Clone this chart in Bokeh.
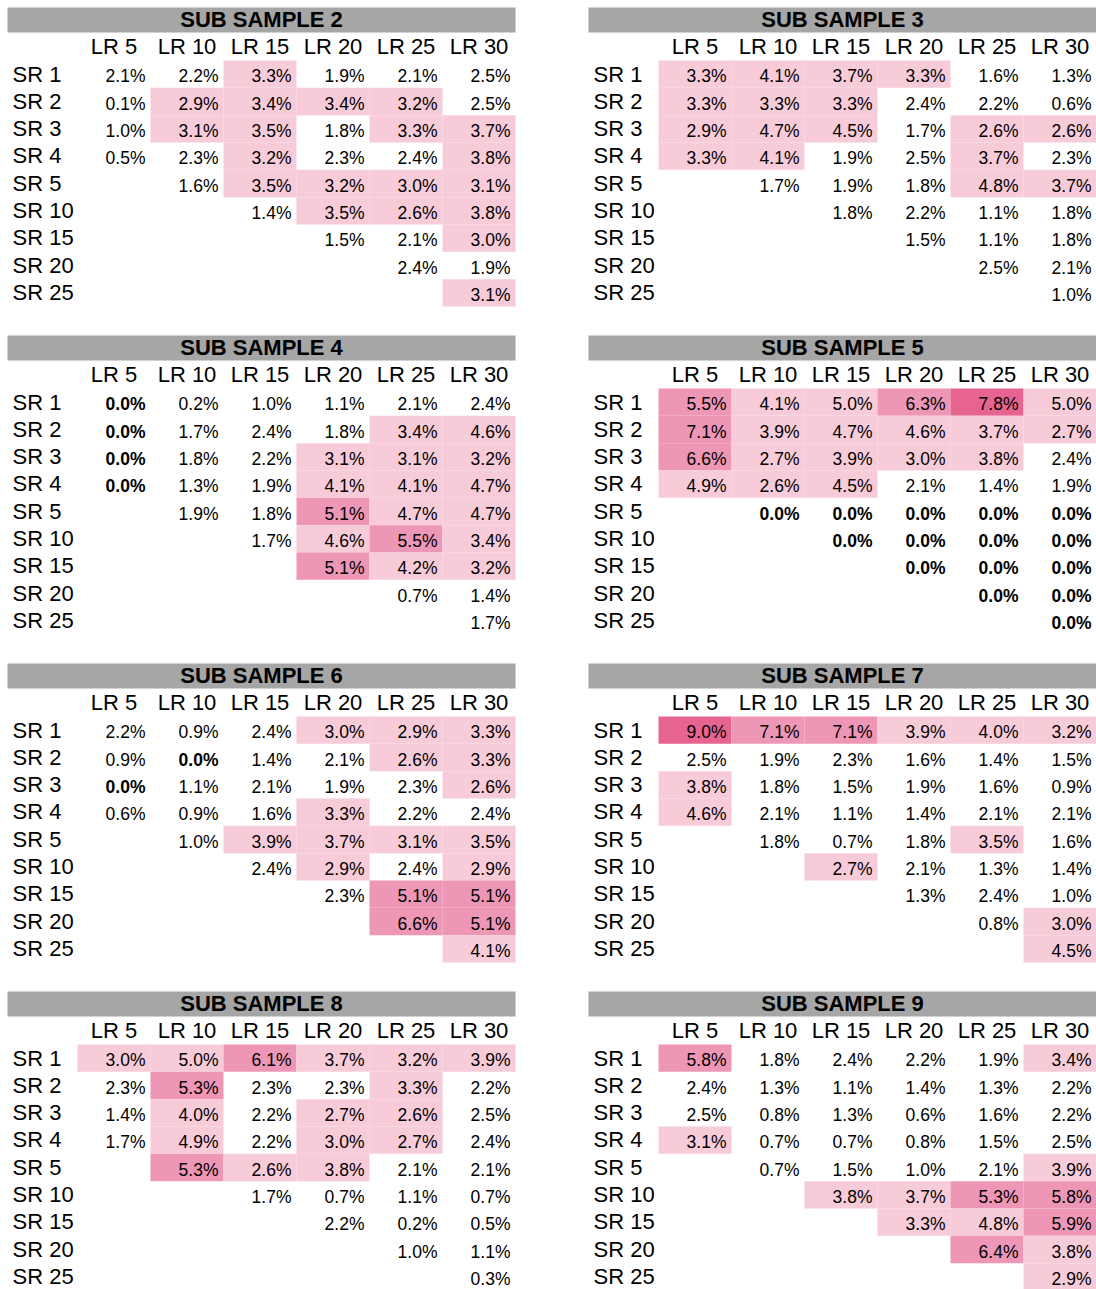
from bokeh.plotting import figure
from bokeh.models import Range1d, ColumnDataSource
from bokeh.embed import file_html
from bokeh.resources import INLINE
from bokeh.core.properties import value

# ---------------- data ----------------
SR_LABELS = ["SR 1", "SR 2", "SR 3", "SR 4", "SR 5", "SR 10", "SR 15", "SR 20", "SR 25"]
LR_LABELS = ["LR 5", "LR 10", "LR 15", "LR 20", "LR 25", "LR 30"]
TITLES = ["SUB SAMPLE 2", "SUB SAMPLE 3", "SUB SAMPLE 4", "SUB SAMPLE 5",
          "SUB SAMPLE 6", "SUB SAMPLE 7", "SUB SAMPLE 8", "SUB SAMPLE 9"]
N = None

ss2 = [[2.1, 2.2, 3.3, 1.9, 2.1, 2.5],
       [0.1, 2.9, 3.4, 3.4, 3.2, 2.5],
       [1.0, 3.1, 3.5, 1.8, 3.3, 3.7],
       [0.5, 2.3, 3.2, 2.3, 2.4, 3.8],
       [N, 1.6, 3.5, 3.2, 3.0, 3.1],
       [N, N, 1.4, 3.5, 2.6, 3.8],
       [N, N, N, 1.5, 2.1, 3.0],
       [N, N, N, N, 2.4, 1.9],
       [N, N, N, N, N, 3.1]]
ss3 = [[3.3, 4.1, 3.7, 3.3, 1.6, 1.3],
       [3.3, 3.3, 3.3, 2.4, 2.2, 0.6],
       [2.9, 4.7, 4.5, 1.7, 2.6, 2.6],
       [3.3, 4.1, 1.9, 2.5, 3.7, 2.3],
       [N, 1.7, 1.9, 1.8, 4.8, 3.7],
       [N, N, 1.8, 2.2, 1.1, 1.8],
       [N, N, N, 1.5, 1.1, 1.8],
       [N, N, N, N, 2.5, 2.1],
       [N, N, N, N, N, 1.0]]
ss4 = [[0.0, 0.2, 1.0, 1.1, 2.1, 2.4],
       [0.0, 1.7, 2.4, 1.8, 3.4, 4.6],
       [0.0, 1.8, 2.2, 3.1, 3.1, 3.2],
       [0.0, 1.3, 1.9, 4.1, 4.1, 4.7],
       [N, 1.9, 1.8, 5.1, 4.7, 4.7],
       [N, N, 1.7, 4.6, 5.5, 3.4],
       [N, N, N, 5.1, 4.2, 3.2],
       [N, N, N, N, 0.7, 1.4],
       [N, N, N, N, N, 1.7]]
ss5 = [[5.5, 4.1, 5.0, 6.3, 7.8, 5.0],
       [7.1, 3.9, 4.7, 4.6, 3.7, 2.7],
       [6.6, 2.7, 3.9, 3.0, 3.8, 2.4],
       [4.9, 2.6, 4.5, 2.1, 1.4, 1.9],
       [N, 0.0, 0.0, 0.0, 0.0, 0.0],
       [N, N, 0.0, 0.0, 0.0, 0.0],
       [N, N, N, 0.0, 0.0, 0.0],
       [N, N, N, N, 0.0, 0.0],
       [N, N, N, N, N, 0.0]]
ss6 = [[2.2, 0.9, 2.4, 3.0, 2.9, 3.3],
       [0.9, 0.0, 1.4, 2.1, 2.6, 3.3],
       [0.0, 1.1, 2.1, 1.9, 2.3, 2.6],
       [0.6, 0.9, 1.6, 3.3, 2.2, 2.4],
       [N, 1.0, 3.9, 3.7, 3.1, 3.5],
       [N, N, 2.4, 2.9, 2.4, 2.9],
       [N, N, N, 2.3, 5.1, 5.1],
       [N, N, N, N, 6.6, 5.1],
       [N, N, N, N, N, 4.1]]
ss7 = [[9.0, 7.1, 7.1, 3.9, 4.0, 3.2],
       [2.5, 1.9, 2.3, 1.6, 1.4, 1.5],
       [3.8, 1.8, 1.5, 1.9, 1.6, 0.9],
       [4.6, 2.1, 1.1, 1.4, 2.1, 2.1],
       [N, 1.8, 0.7, 1.8, 3.5, 1.6],
       [N, N, 2.7, 2.1, 1.3, 1.4],
       [N, N, N, 1.3, 2.4, 1.0],
       [N, N, N, N, 0.8, 3.0],
       [N, N, N, N, N, 4.5]]
ss8 = [[3.0, 5.0, 6.1, 3.7, 3.2, 3.9],
       [2.3, 5.3, 2.3, 2.3, 3.3, 2.2],
       [1.4, 4.0, 2.2, 2.7, 2.6, 2.5],
       [1.7, 4.9, 2.2, 3.0, 2.7, 2.4],
       [N, 5.3, 2.6, 3.8, 2.1, 2.1],
       [N, N, 1.7, 0.7, 1.1, 0.7],
       [N, N, N, 2.2, 0.2, 0.5],
       [N, N, N, N, 1.0, 1.1],
       [N, N, N, N, N, 0.3]]
ss9 = [[5.8, 1.8, 2.4, 2.2, 1.9, 3.4],
       [2.4, 1.3, 1.1, 1.4, 1.3, 2.2],
       [2.5, 0.8, 1.3, 0.6, 1.6, 2.2],
       [3.1, 0.7, 0.7, 0.8, 1.5, 2.5],
       [N, 0.7, 1.5, 1.0, 2.1, 3.9],
       [N, N, 3.8, 3.7, 5.3, 5.8],
       [N, N, N, 3.3, 4.8, 5.9],
       [N, N, N, N, 6.4, 3.8],
       [N, N, N, N, N, 2.9]]
TABLES = [ss2, ss3, ss4, ss5, ss6, ss7, ss8, ss9]

# ---------------- style / layout ----------------
FONT = value("Liberation Sans")
GRAY = "#A6A6A6"
LIGHT = "#F8CBD9"
MEDIUM = "#EE96B6"
DARK = "#E6648F"

TABLE_LEFT = [7, 588]
TABLE_RIGHT = [515, 1096]
BLOCK_TOP0 = 7
BLOCK_STEP = 328
TITLE_H = 25
HEADER_H = 28
ROW_H = 27.33
COL_W = 73


def shade(v):
    if v is None or v < 2.55:
        return None
    if v >= 7.5:
        return DARK
    if v >= 5.05:
        return MEDIUM
    return LIGHT


bars = dict(l=[], r=[], t=[], b=[])
titles = dict(x=[], y=[], s=[])
heads = dict(x=[], y=[], s=[])
labels = dict(x=[], y=[], s=[])
cells = dict(l=[], r=[], t=[], b=[], c=[])
vals_n = dict(x=[], y=[], s=[])
vals_b = dict(x=[], y=[], s=[])

for k, tab in enumerate(TABLES):
    side = k % 2
    blk = k // 2
    left, right = TABLE_LEFT[side], TABLE_RIGHT[side]
    top = BLOCK_TOP0 + blk * BLOCK_STEP
    bars["l"].append(left); bars["r"].append(right)
    bars["t"].append(top); bars["b"].append(top + TITLE_H)
    titles["x"].append((left + right) / 2); titles["y"].append(top + 12.3)
    titles["s"].append(TITLES[k])
    htop = top + TITLE_H
    col0 = right - len(LR_LABELS) * COL_W
    for j, lab in enumerate(LR_LABELS):
        heads["x"].append(col0 + (j + 0.5) * COL_W)
        heads["y"].append(htop + 13.8)
        heads["s"].append(lab)
    rtop0 = htop + HEADER_H
    for i, srl in enumerate(SR_LABELS):
        rt = rtop0 + i * ROW_H
        labels["x"].append(left + 5); labels["y"].append(rt + 13.5)
        labels["s"].append(srl)
        for j, v in enumerate(tab[i]):
            if v is None:
                continue
            cl = col0 + j * COL_W
            c = shade(v)
            if c is not None:
                cells["l"].append(cl); cells["r"].append(cl + COL_W)
                cells["t"].append(rt); cells["b"].append(rt + ROW_H)
                cells["c"].append(c)
            target = vals_b if v == 0 else vals_n
            target["x"].append(cl + COL_W - 5)
            target["y"].append(rt + 15.8)
            target["s"].append(f"{v:.1f}%")

# ---------------- figure ----------------
W, H = 1096, 1289
p = figure(width=W, height=H, x_range=Range1d(0, W), y_range=Range1d(H, 0),
           output_backend="svg", toolbar_location=None, min_border=0,
           x_axis_location=None, y_axis_location=None)
p.grid.visible = False
p.outline_line_color = None
p.background_fill_color = "white"
p.border_fill_color = "white"

p.quad(left="l", right="r", top="t", bottom="b", source=ColumnDataSource(bars),
       fill_color=GRAY, line_color=None)
p.quad(left="l", right="r", top="t", bottom="b", fill_color="c", source=ColumnDataSource(cells),
       line_color=None)

p.text(x="x", y="y", text="s", source=ColumnDataSource(titles), text_font=FONT,
       text_font_size="22px", text_font_style="bold", text_align="center",
       text_baseline="middle", text_color="black")
p.text(x="x", y="y", text="s", source=ColumnDataSource(heads), text_font=FONT,
       text_font_size="22px", text_align="center", text_baseline="middle",
       text_color="black")
p.text(x="x", y="y", text="s", source=ColumnDataSource(labels), text_font=FONT,
       text_font_size="22px", text_align="left", text_baseline="middle",
       text_color="black")
p.text(x="x", y="y", text="s", source=ColumnDataSource(vals_n), text_font=FONT,
       text_font_size="17.5px", text_align="right", text_baseline="middle",
       text_color="black")
p.text(x="x", y="y", text="s", source=ColumnDataSource(vals_b), text_font=FONT,
       text_font_size="17.5px", text_font_style="bold", text_align="right",
       text_baseline="middle", text_color="black")

open("out.html", "w").write(file_html(p, INLINE))
